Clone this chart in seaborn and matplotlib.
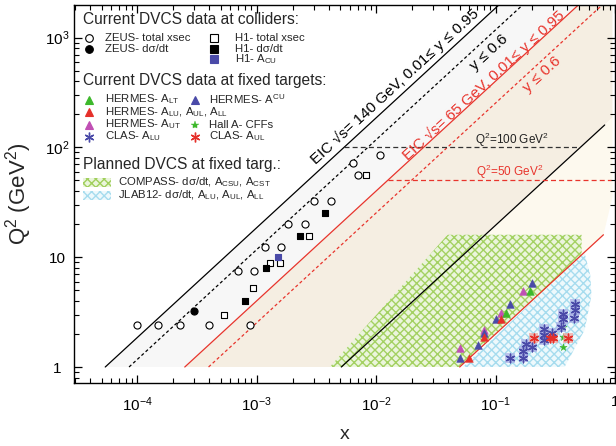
import numpy as np
import pandas as pd
import matplotlib
matplotlib.use("Agg")
import matplotlib.pyplot as plt
import seaborn as sns
from matplotlib.patches import Rectangle

# ---------------- data (x, Q^2 in GeV^2) ----------------
# colliders
zeus_tot_x = [1.0e-4, 1.48e-4, 2.28e-4, 3.99e-4, 8.69e-4, 6.93e-4, 9.44e-4, 1.17e-3,
              1.58e-3, 1.84e-3, 2.54e-3, 3.01e-3, 4.14e-3, 6.4e-3, 6.97e-3, 1.08e-2]
zeus_tot_q2 = [2.4, 2.4, 2.4, 2.4, 2.4, 7.5, 7.5, 12.5, 12.5, 20, 20, 32.5, 32.5, 71.6, 56, 85]
zeus_dsdt_x = [2.97e-4]
zeus_dsdt_q2 = [3.25]
h1_tot_x = [5.3e-4, 9.26e-4, 1.29e-3, 1.55e-3, 2.74e-3, 8.28e-3]
h1_tot_q2 = [3.0, 5.2, 8.8, 8.8, 15.6, 56]
h1_dsdt_x = [7.94e-4, 1.19e-3, 2.29e-3, 3.73e-3]
h1_dsdt_q2 = [4.0, 8.0, 15.6, 25.1]
h1_acu_x = [1.49e-3]
h1_acu_q2 = [10.0]

# fixed targets
hermes_alt_x = [0.193, 0.121]
hermes_alt_q2 = [4.95, 3.08]
hermes_acu_x = [0.201, 0.131, 0.1006, 0.0804, 0.0707, 0.0503]
hermes_acu_q2 = [5.79, 3.75, 2.75, 2.04, 1.58, 1.20]
hermes_alu_x = [0.111, 0.0804, 0.0602]
hermes_alu_q2 = [2.75, 1.89, 1.20]
hermes_aut_x = [0.171, 0.111, 0.0804, 0.0503]
hermes_aut_q2 = [4.95, 3.08, 2.17, 1.50]
halla_x = [0.364, 0.364, 0.364]
halla_q2 = [2.31, 1.89, 1.52]
clas_alu_x = [0.465, 0.465, 0.456, 0.364, 0.364, 0.355, 0.253, 0.253, 0.253, 0.294,
              0.181, 0.201, 0.171, 0.171, 0.131]
clas_alu_q2 = [3.72, 3.30, 2.81, 3.02, 2.74, 2.30, 2.20, 1.96, 1.76, 2.03,
               1.61, 1.51, 1.41, 1.22, 1.21]
clas_aul_x = [0.208, 0.283, 0.302, 0.406]
clas_aul_q2 = [1.83, 1.83, 1.83, 1.83]

# kinematic limits (end points of the straight lines)
eic140_y95_x, eic140_y95_q2 = [5.37e-5, 0.1074], [1, 2000]
eic140_y06_x, eic140_y06_q2 = [8.5e-5, 0.17], [1, 2000]
eic140_y001_x, eic140_y001_q2 = [5.1e-3, 0.82], [1, 160]
eic65_y95_x, eic65_y95_q2 = [2.49e-4, 0.498], [1, 2000]
eic65_y06_x, eic65_y06_q2 = [3.94e-4, 0.789], [1, 2000]
eic65_low_x, eic65_low_q2 = [0.05, 0.80], [1, 16]
q2cut100_x, q2cut100_q2 = [5.37e-3, 0.51], [100, 100]
q2cut50_x, q2cut50_q2 = [0.01246, 0.93], [50, 50]

# filled regions
only140_x = [5.37e-5, 0.1074, 0.498, 2.49e-4]
only140_q2 = [1, 2000, 2000, 1]
both_x = [2.49e-4, 0.498, 0.953, 0.953, 5.1e-3]
both_q2 = [1, 2000, 2000, 187, 1]
only65_x = [5.1e-3, 0.953, 0.953, 0.80, 0.05]
only65_q2 = [1, 187, 35.3, 16, 1]
compass_x = [4.08e-3, 0.0396, 0.525, 0.525, 0.05]
compass_q2 = [1, 16, 16, 10.3, 1]
jlab_x = [0.053, 0.556, 0.62, 0.635, 0.556, 0.378]
jlab_q2 = [1, 10.9, 6.9, 4.5, 2.17, 1]

# colours
c_green = "#3db82b"
c_red = "#e5302a"
c_blue = "#4a4aa8"
c_mag = "#c04fb4"
c_eic_red = "#e8342c"
h_green = "#a0cf5c"
h_blue = "#a6dcee"
hatch = "xxxx"

sns.set_theme(style="ticks")
plt.rcParams["font.family"] = ["Liberation Sans", "DejaVu Sans"]
plt.rcParams["mathtext.default"] = "regular"
plt.rcParams["hatch.linewidth"] = 1.0

fig = plt.figure(figsize=(6.16, 4.46), dpi=100)
L, R, T, B = 74, 615, 5, 383
ax = fig.add_axes([L / 616, 1 - B / 446, (R - L) / 616, (B - T) / 446])
ax.set_xscale("log")
ax.set_yscale("log")

# coverage regions
ax.fill(only140_x, only140_q2, color="#f7f7f7", lw=0, zorder=0)
ax.fill(both_x, both_q2, color="#f5eee2", lw=0, zorder=0)
ax.fill(only65_x, only65_q2, color="#fdf9ee", lw=0, zorder=0)
ax.fill(compass_x, compass_q2, facecolor="#eaf5dc", edgecolor=h_green,
        hatch=hatch, lw=0, alpha=0.95, zorder=1)
ax.fill(jlab_x, jlab_q2, facecolor="#eef9fc", edgecolor=h_blue,
        hatch=hatch, lw=0, zorder=1)

# limits
sns.lineplot(x=eic140_y95_x, y=eic140_y95_q2, ax=ax, color="black", lw=0.9, zorder=2)
sns.lineplot(x=eic140_y06_x, y=eic140_y06_q2, ax=ax, color="black", lw=0.9,
             linestyle=(0, (2.5, 2)), zorder=2)
sns.lineplot(x=eic140_y001_x, y=eic140_y001_q2, ax=ax, color="black", lw=0.9, zorder=2)
sns.lineplot(x=eic65_y95_x, y=eic65_y95_q2, ax=ax, color=c_eic_red, lw=0.9, zorder=2)
sns.lineplot(x=eic65_y06_x, y=eic65_y06_q2, ax=ax, color=c_eic_red, lw=0.9,
             linestyle=(0, (2.5, 2)), zorder=2)
sns.lineplot(x=eic65_low_x, y=eic65_low_q2, ax=ax, color=c_eic_red, lw=0.9, zorder=2)
sns.lineplot(x=q2cut100_x, y=q2cut100_q2, ax=ax, color="#333333", lw=0.9,
             linestyle=(0, (4, 2.5)), zorder=2)
sns.lineplot(x=q2cut50_x, y=q2cut50_q2, ax=ax, color=c_eic_red, lw=0.9,
             linestyle=(0, (4, 2.5)), zorder=2)

# collider points
sns.scatterplot(x=zeus_tot_x, y=zeus_tot_q2, ax=ax, marker="o", s=26, color="white",
                edgecolor="black", linewidth=0.8, zorder=5)
sns.scatterplot(x=zeus_dsdt_x, y=zeus_dsdt_q2, ax=ax, marker="o", s=26, color="black",
                edgecolor="black", linewidth=0.8, zorder=5)
sns.scatterplot(x=h1_tot_x, y=h1_tot_q2, ax=ax, marker="s", s=24, color="white",
                edgecolor="black", linewidth=0.8, zorder=5)
sns.scatterplot(x=h1_dsdt_x, y=h1_dsdt_q2, ax=ax, marker="s", s=24, color="black",
                edgecolor="black", linewidth=0.8, zorder=5)
sns.scatterplot(x=h1_acu_x, y=h1_acu_q2, ax=ax, marker="s", s=24, color=c_blue,
                edgecolor=c_blue, linewidth=0.8, zorder=5)

# fixed target points
sns.scatterplot(x=halla_x, y=halla_q2, ax=ax, marker="*", s=30, color=c_green,
                edgecolor=c_green, linewidth=0.3, zorder=5)
sns.scatterplot(x=clas_alu_x, y=clas_alu_q2, ax=ax, marker="s", s=50, color="#aab0e6",
                edgecolor="none", alpha=0.7, zorder=5)
sns.scatterplot(x=clas_aul_x, y=clas_aul_q2, ax=ax, marker="s", s=50, color="#f2a39c",
                edgecolor="none", alpha=0.7, zorder=5)
sns.scatterplot(x=clas_alu_x, y=clas_alu_q2, ax=ax, marker=(6, 2, 0), s=38,
                color=c_blue, edgecolor=c_blue, linewidth=1.0, zorder=6)
sns.scatterplot(x=clas_aul_x, y=clas_aul_q2, ax=ax, marker=(6, 2, 0), s=38,
                color=c_red, edgecolor=c_red, linewidth=1.0, zorder=6)
for tx, ty, tc in [(hermes_aut_x, hermes_aut_q2, c_mag), (hermes_acu_x, hermes_acu_q2, c_blue),
                   (hermes_alu_x, hermes_alu_q2, c_red), (hermes_alt_x, hermes_alt_q2, c_green)]:
    sns.scatterplot(x=tx, y=ty, ax=ax, marker="^", s=30, color=tc, edgecolor=tc,
                    linewidth=0.4, zorder=7)

ax.set_xlim(2.94e-5, 1.0)
ax.set_ylim(0.715, 1980)

# labels along the limits
ang = 42.5
ax.text(0.0143, 362, "EIC \u221as= 140 GeV, 0.01\u2264 y \u2264 0.95", rotation=ang,
        rotation_mode="anchor", ha="center", va="center", fontsize=11, color="black")
ax.text(0.089, 740, "y \u2264 0.6", rotation=ang, rotation_mode="anchor",
        ha="center", va="center", fontsize=11, color="black")
ax.text(0.08, 370, "EIC \u221as= 65 GeV, 0.01\u2264 y \u2264 0.95", rotation=ang,
        rotation_mode="anchor", ha="center", va="center", fontsize=11, color=c_eic_red)
ax.text(0.243, 457, "y \u2264 0.6", rotation=ang, rotation_mode="anchor",
        ha="center", va="center", fontsize=11, color=c_eic_red)
ax.text(0.136, 117, "Q$^2$=100 GeV$^2$", ha="center", va="center", fontsize=8.5,
        color="#222222")
ax.text(0.13, 60, "Q$^2$=50 GeV$^2$", ha="center", va="center", fontsize=8.5,
        color=c_eic_red)

# ---------------- legend drawn by hand ----------------
def ap(px, py):
    return ((px - L) / (R - L), (B - py) / (B - T))

hfs, efs = 11.2, 8.2
def head(py, s):
    ax.text(*ap(83, py), s, transform=ax.transAxes, fontsize=hfs, ha="left", va="center")

def entry(mx, tx, py, marker, fc, ec, s, ms=6, mew=0.8):
    ax.plot(*ap(mx, py), marker=marker, ms=ms, mfc=fc, mec=ec, mew=mew,
            transform=ax.transAxes, clip_on=False, zorder=8)
    ax.text(*ap(tx, py), s, transform=ax.transAxes, fontsize=efs, ha="left", va="center")

head(20, "Current DVCS data at colliders:")
entry(89, 105, 38, "o", "white", "black", "ZEUS- total xsec", ms=5.5)
entry(89, 105, 48.5, "o", "black", "black", "ZEUS- d\u03c3/dt", ms=5.5)
entry(214, 235, 38, "s", "white", "black", "H1- total xsec", ms=5.5)
entry(214, 235, 48.5, "s", "black", "black", "H1- d\u03c3/dt", ms=5.5)
entry(214, 235, 59, "s", c_blue, c_blue, "H1- A$_{CU}$", ms=5.5)

head(81, "Current DVCS data at fixed targets:")
entry(89, 105, 99.5, "^", c_green, c_green, "HERMES- A$_{LT}$")
entry(195, 209, 99.5, "^", c_blue, c_blue, "HERMES- A$^{CU}$")
entry(89, 105, 112, "^", c_red, c_red, "HERMES- A$_{LU}$, A$_{UL}$, A$_{LL}$")
entry(89, 105, 124.5, "^", c_mag, c_mag, "HERMES- A$_{UT}$")
entry(195, 209, 124.5, "*", c_green, c_green, "Hall A- CFFs", ms=6, mew=0.3)
entry(89, 105, 136.5, (6, 2, 0), c_blue, c_blue, "CLAS- A$_{LU}$", ms=7, mew=1.0)
entry(195, 209, 136.5, (6, 2, 0), c_red, c_red, "CLAS- A$_{UL}$", ms=7, mew=1.0)

head(165, "Planned DVCS at fixed targ.:")
for py, fc, ec, s in [(182, "#eaf5dc", h_green, "COMPASS- d\u03c3/dt, A$_{CSU}$, A$_{CST}$"),
                      (195.5, "#eef9fc", h_blue, "JLAB12- d\u03c3/dt, A$_{LU}$, A$_{UL}$, A$_{LL}$")]:
    x0, y0 = ap(83, py + 4.5)
    x1, y1 = ap(111, py - 4.5)
    ax.add_patch(Rectangle((x0, y0), x1 - x0, y1 - y0, transform=ax.transAxes,
                           facecolor=fc, edgecolor=ec, hatch=hatch, lw=0,
                           clip_on=False, zorder=8))
    ax.text(*ap(118, py), s, transform=ax.transAxes, fontsize=efs, ha="left", va="center")

# ---------------- axes ----------------
ax.set_xticks([1e-4, 1e-3, 1e-2, 1e-1, 1])
ax.set_xticklabels(["$10^{-4}$", "$10^{-3}$", "$10^{-2}$", "$10^{-1}$", "1"])
ax.set_yticks([1, 10, 100, 1000])
ax.set_yticklabels(["1", "10", "$10^{2}$", "$10^{3}$"])
ax.tick_params(which="both", direction="in", top=True, right=True, colors="black")
ax.tick_params(which="major", length=6, width=0.9, labelsize=11)
ax.tick_params(which="minor", length=3.5, width=0.8)
ax.tick_params(axis="x", which="major", pad=9)
ax.tick_params(axis="y", which="major", pad=12)
for lbl in ax.get_yticklabels():
    lbl.set_horizontalalignment("center")
for sp in ax.spines.values():
    sp.set_linewidth(1.0)
    sp.set_color("black")

ax.set_xlabel("x", fontsize=14)
ax.set_ylabel("Q$^2$ (GeV$^2$)", fontsize=16)
ax.xaxis.set_label_coords(0.5, -0.115)
ax.yaxis.set_label_coords(-0.074, 0.5)

fig.savefig("out.png", dpi=100)
